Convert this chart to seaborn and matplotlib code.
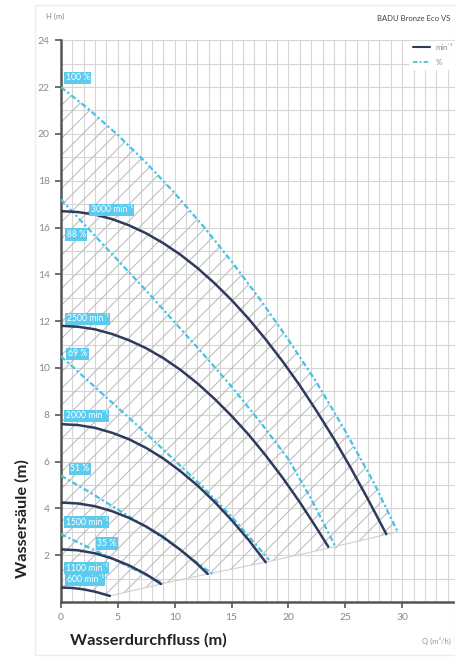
import matplotlib
matplotlib.use("Agg")
import matplotlib.pyplot as plt
import matplotlib.patches as mpatches
import seaborn as sns

# speed curves (min^-1)
q_3000 = [0, 1.5, 3, 4.5, 6, 7.5, 9, 10.5, 12, 13.5, 15, 16.5, 18, 19.5, 21, 22.5, 24, 25.5, 27, 28.6]
h_3000 = [16.7, 16.66, 16.55, 16.36, 16.09, 15.75, 15.33, 14.84, 14.27, 13.62, 12.9, 12.1,
          11.22, 10.27, 9.25, 8.14, 6.97, 5.71, 4.38, 2.9]
q_2500 = [0, 1.5, 3, 4.5, 6, 7.5, 9, 10.5, 12, 13.5, 15, 16.5, 18, 19.5, 21, 22.5, 23.5]
h_2500 = [11.8, 11.76, 11.65, 11.45, 11.18, 10.84, 10.42, 9.92, 9.34, 8.68, 7.95, 7.15,
          6.26, 5.3, 4.26, 3.14, 2.36]
q_2000 = [0, 1.5, 3, 4.5, 6, 7.5, 9, 10.5, 12, 13.5, 15, 16.5, 18]
h_2000 = [7.6, 7.56, 7.44, 7.23, 6.95, 6.58, 6.13, 5.59, 4.98, 4.28, 3.5, 2.65, 1.7]
q_1500 = [0, 1.5, 3, 4.5, 6, 7.5, 9, 10.5, 12, 12.9]
h_1500 = [4.25, 4.21, 4.09, 3.88, 3.59, 3.22, 2.77, 2.23, 1.62, 1.2]
q_1100 = [0, 1.5, 3, 4.5, 6, 7.5, 8.8]
h_1100 = [2.25, 2.21, 2.08, 1.86, 1.56, 1.18, 0.77]
q_600 = [0, 1, 2, 3, 4.3]
h_600 = [0.62, 0.6, 0.54, 0.44, 0.26]

# percentage curves
q_p100 = [0, 2.5, 5, 7.5, 10, 12.5, 15, 17.5, 20, 22.5, 25, 27.5, 29.6]
h_p100 = [22.0, 21.03, 19.95, 18.76, 17.47, 16.06, 14.55, 12.93, 11.2, 9.36, 7.3, 5.1, 3.0]
q_p88 = [0, 2.5, 5, 7.5, 10, 12.5, 15, 17.5, 20, 22, 24.2]
h_p88 = [17.2, 15.9, 14.6, 13.3, 11.95, 10.6, 9.2, 7.7, 6.1, 4.4, 2.3]
q_p69 = [0, 2.5, 5, 7.5, 10, 12.5, 15, 18.3]
h_p69 = [10.5, 9.4, 8.3, 7.2, 6.05, 4.9, 3.65, 1.8]
q_p51 = [0, 2.5, 5, 7.5, 10, 13.3]
h_p51 = [5.4, 4.7, 3.95, 3.2, 2.4, 1.2]
q_p35 = [0, 3, 6, 9.0]
h_p35 = [2.9, 2.2, 1.5, 0.8]

# lower envelope through curve ends
q_env = [4.3, 8.8, 12.9, 18.0, 23.5, 29.6]
h_env = [0.26, 0.77, 1.2, 1.7, 2.3, 3.0]

speed_labels = ["3000 min⁻¹", "2500 min⁻¹", "2000 min⁻¹", "1500 min⁻¹", "1100 min⁻¹", "600 min⁻¹"]
speed_label_xy = [(2.6, 16.75), (0.5, 12.1), (0.4, 7.95), (0.4, 3.4), (0.4, 1.45), (0.5, 0.95)]
pct_labels = ["100 %", "88 %", "69 %", "51 %", "35 %"]
pct_label_xy = [(0.4, 22.4), (0.5, 15.7), (0.6, 10.6), (0.8, 5.7), (3.2, 2.5)]

NAVY = "#2e3b5b"
CYAN = "#45c3e6"
BOX = "#5ccbee"
DASH = (0, (2.5, 1.2, 1, 1.2))

sns.set_theme(style="white")
plt.rcParams["font.family"] = ["Lato", "DejaVu Sans"]
plt.rcParams["hatch.linewidth"] = 0.7

fig = plt.figure(figsize=(4.55, 6.57), dpi=100)
ax = fig.add_axes([0.134, 0.0837, 0.87, 0.855])

# hatched operating area
poly = list(zip(q_p100, h_p100)) + list(zip(q_env[::-1], h_env[::-1])) + list(zip(q_600[::-1], h_600[::-1]))
patch = mpatches.Polygon(poly, closed=True, facecolor="none", edgecolor="#b8b8b8",
                         hatch="//", linewidth=0, zorder=1)
ax.add_patch(patch)
sns.lineplot(x=q_env, y=h_env, ax=ax, color="#cfcfcf", linewidth=0.8, zorder=2)

for q, h in [(q_p100, h_p100), (q_p88, h_p88), (q_p69, h_p69), (q_p51, h_p51), (q_p35, h_p35)]:
    sns.lineplot(x=q, y=h, ax=ax, color=CYAN, linewidth=1.6, linestyle=DASH, sort=False, zorder=3)
for q, h in [(q_3000, h_3000), (q_2500, h_2500), (q_2000, h_2000),
             (q_1500, h_1500), (q_1100, h_1100), (q_600, h_600)]:
    sns.lineplot(x=q, y=h, ax=ax, color=NAVY, linewidth=1.8, sort=False, zorder=4)

box = dict(boxstyle="square,pad=0.18", fc=BOX, ec="none")
for txt, (x, y) in zip(speed_labels, speed_label_xy):
    ax.text(x, y, txt, color="white", fontsize=6.2, va="center", ha="left", bbox=box, zorder=6)
for txt, (x, y) in zip(pct_labels, pct_label_xy):
    ax.text(x, y, txt, color="white", fontsize=6.2, va="center", ha="left", bbox=box, zorder=6)

ax.set_xlim(0, 34.8)
ax.set_ylim(0, 24)
ax.set_xticks(range(0, 35, 5))
ax.set_yticks(range(2, 25, 2))
ax.set_xticks(range(0, 35), minor=True)
ax.set_yticks(range(0, 25), minor=True)
ax.grid(which="both", color="#d6d6d6", linewidth=0.8, zorder=0)
ax.set_axisbelow(True)
for s in ["top", "right"]:
    ax.spines[s].set_visible(False)
for s in ["left", "bottom"]:
    ax.spines[s].set_color("#555555")
    ax.spines[s].set_linewidth(1.8)
ax.tick_params(which="major", length=4, width=1.2, color="#555555", labelsize=7.5,
               labelcolor="#8a8a8a", left=True, bottom=True, pad=4)
ax.tick_params(which="minor", length=0)
ax.set_xlabel("")
ax.set_ylabel("")

# legend
h1 = plt.Line2D([], [], color=NAVY, linewidth=1.5)
h2 = plt.Line2D([], [], color=CYAN, linewidth=1.3, linestyle=DASH)
leg = ax.legend([h1, h2], ["min⁻¹", "%"], loc="upper right", fontsize=5.5, frameon=True,
                handlelength=2.2, borderaxespad=0.1, labelspacing=1.0)
leg.get_frame().set_edgecolor("white")
leg.get_frame().set_facecolor("white")
leg.get_frame().set_alpha(1)
for t in leg.get_texts():
    t.set_color("#888888")

# frame and outer texts
fig.patches.append(mpatches.Rectangle((0.077, 0.003), 0.922, 0.99, transform=fig.transFigure,
                                      fill=False, edgecolor="#ececec", linewidth=1.0))
fig.text(0.1, 0.975, "H (m)", fontsize=5.5, color="#888888", ha="left", va="center")
fig.text(0.99, 0.972, "BADU Bronze Eco VS", fontsize=5.5, color="#444444", ha="right", va="center")
fig.text(0.99, 0.025, "Q (m³/h)", fontsize=5.5, color="#999999", ha="right", va="center")
fig.text(0.153, 0.025, "Wasserdurchfluss (m)", fontsize=11.8, fontweight="bold", color="#222222",
         ha="left", va="center")
fig.text(0.048, 0.21, "Wassersäule (m)", fontsize=11.8, fontweight="bold", color="#222222",
         ha="center", va="center", rotation=90)

fig.savefig("out.png", dpi=100)
